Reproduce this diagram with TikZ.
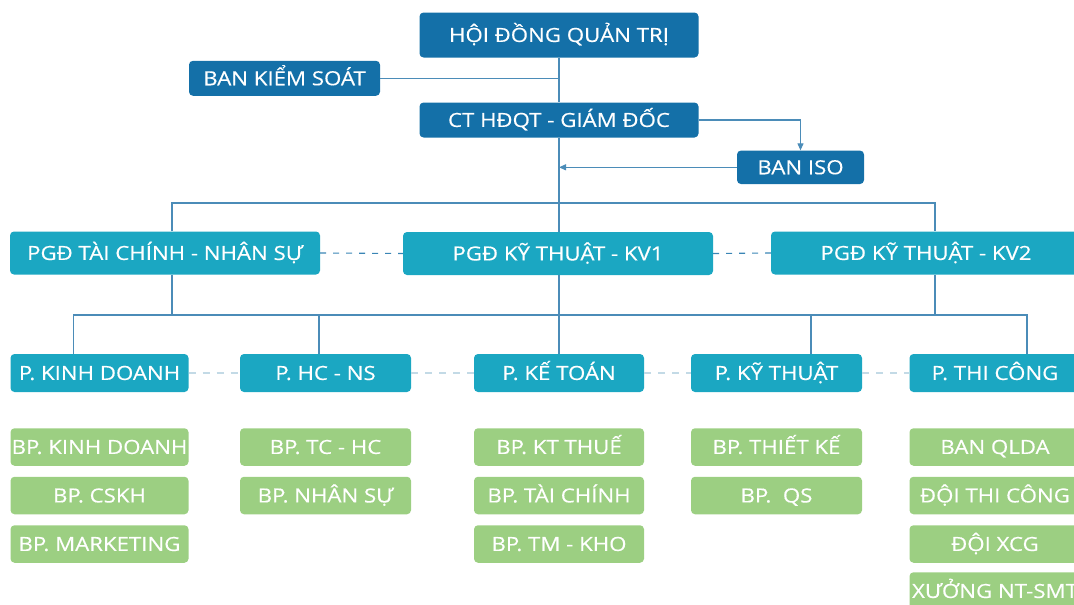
\documentclass[tikz,border=0pt]{standalone}
\usepackage{fontspec}
\setmainfont[FakeStretch=1.14,FakeBold=0.4]{Open Sans}
\usetikzlibrary{arrows.meta,calc}
\definecolor{dkblue}{HTML}{1470A8}
\definecolor{teal}{HTML}{1BA7C2}
\definecolor{grn}{HTML}{9CCF82}
\definecolor{ln}{HTML}{4B8CB8}
\definecolor{dsh}{HTML}{3A85B5}
\definecolor{lt}{HTML}{C3DAE6}
\tikzset{
  box/.style={rectangle, rounded corners=4pt, text=white, inner sep=0pt,
    text height=13.9pt, text depth=0pt,
    font=\fontsize{19.5}{21}\selectfont},
  dk/.style={box, fill=dkblue},
  tl/.style={box, fill=teal},
  gr/.style={box, fill=grn},
  conn/.style={draw=ln, line width=1.1pt},
  arr/.style={conn, -{Triangle[length=7pt,width=6pt]}},
  dashA/.style={draw=dsh, line width=1.1pt, dash pattern=on 6pt off 7pt},
  dashB/.style={draw=lt, line width=1.1pt, dash pattern=on 7pt off 7pt},
}
\begin{document}
\begin{tikzpicture}[x=1pt,y=-1pt]
\useasboundingbox (0,0) rectangle (1074,605);
\clip (0,0) rectangle (1074,605);
% top
\node[dk, minimum width=279pt, minimum height=45pt] (hdqt) at (559,35) {HỘI ĐỒNG QUẢN TRỊ};
\node[dk, minimum width=191pt, minimum height=35pt] (bks) at (284.5,78.3) {BAN KIỂM SOÁT};
\node[dk, minimum width=279pt, minimum height=35pt] (ct) at (559,120) {CT HĐQT - GIÁM ĐỐC};
\node[dk, minimum width=127pt, minimum height=33.5pt] (iso) at (800.5,167.3) {BAN ISO};
% PGD
\node[tl, minimum width=310pt, minimum height=43pt] (tcns) at (165,253) {PGĐ TÀI CHÍNH - NHÂN SỰ};
\node[tl, minimum width=310pt, minimum height=43pt] (kv1) at (558,253.5) {PGĐ KỸ THUẬT - KV1};
\node[tl, minimum width=310pt, minimum height=43pt] (kv2) at (926,253) {PGĐ KỸ THUẬT - KV2};
% P row
\node[tl, minimum width=178pt, minimum height=38pt] (pkd) at (99.5,373) {P. KINH DOANH};
\node[tl, minimum width=171pt, minimum height=38pt] (phc) at (325.5,373) {P. HC - NS};
\node[tl, minimum width=170pt, minimum height=38pt] (pkt) at (559,373) {P. KẾ TOÁN};
\node[tl, minimum width=171pt, minimum height=38pt] (pkth) at (776.5,373) {P. KỸ THUẬT};
\node[tl, minimum width=171pt, minimum height=38pt] (ptc) at (995,373) {P. THI CÔNG};
% green
\node[gr, minimum width=178pt, minimum height=37.5pt] (g11) at (99.5,447) {BP. KINH DOANH};
\node[gr, minimum width=178pt, minimum height=37.5pt] (g12) at (99.5,495.5) {BP. CSKH};
\node[gr, minimum width=178pt, minimum height=37.5pt] (g13) at (99.5,544) {BP. MARKETING};
\node[gr, minimum width=171pt, minimum height=37.5pt] (g21) at (325.5,447) {BP. TC - HC};
\node[gr, minimum width=171pt, minimum height=37.5pt] (g22) at (325.5,495.5) {BP. NHÂN SỰ};
\node[gr, minimum width=170pt, minimum height=37.5pt] (g31) at (559,447) {BP. KT THUẾ};
\node[gr, minimum width=170pt, minimum height=37.5pt] (g32) at (559,495.5) {BP. TÀI CHÍNH};
\node[gr, minimum width=170pt, minimum height=37.5pt] (g33) at (559,544) {BP. TM - KHO};
\node[gr, minimum width=171pt, minimum height=37.5pt] (g41) at (776.5,447) {BP. THIẾT KẾ};
\node[gr, minimum width=171pt, minimum height=37.5pt] (g42) at (776.5,495.5) {BP.\ \ QS};
\node[gr, minimum width=171pt, minimum height=37.5pt] (g51) at (995,447) {BAN QLDA};
\node[gr, minimum width=171pt, minimum height=37.5pt] (g52) at (995,495.5) {ĐỘI THI CÔNG};
\node[gr, minimum width=171pt, minimum height=37.5pt] (g53) at (995,544) {ĐỘI XCG};
\node[gr, minimum width=171pt, minimum height=37.5pt] (g54) at (995,591) {XƯỞNG NT-SMT};
% coordinates
\coordinate (b1l) at (172,203);
\coordinate (b1r) at (935,203);
\coordinate (b2l) at (73.4,315);
\coordinate (b2r) at (1027,315);
\coordinate (xtc) at (172,315);
\coordinate (xk2) at (935,315);
\coordinate (xhc) at (319,315);
\coordinate (xkt) at (811,315);
% connectors
\draw[conn] (hdqt) -- (ct);
\draw[conn] (ct) -- (kv1.north -| ct.south);
\draw[conn] (kv1.south -| pkt.north) -- (pkt);
\draw[conn] (bks) -- (bks -| hdqt.south);
\draw[arr] (ct.east) -| (iso.north);
\draw[arr] (iso.west) -- (iso.west -| ct.south);
\draw[conn] (tcns.north -| b1l) -- (b1l) -- (b1r) -- (kv2.north -| b1r);
\draw[conn] (tcns.south -| xtc) -- (xtc);
\draw[conn] (kv2.south -| xk2) -- (xk2);
\draw[conn] (pkd.north -| b2l) -- (b2l) -- (b2r) -- (ptc.north -| b2r);
\draw[conn] (xhc) -- (phc.north -| xhc);
\draw[conn] (xkt) -- (pkth.north -| xkt);
\draw[dashA] (tcns.east) -- (kv1.west);
\draw[dashA] (kv1.east) -- (kv2.west);
\draw[dashB] (pkd.east) -- (phc.west);
\draw[dashB] (phc.east) -- (pkt.west);
\draw[dashB] (pkt.east) -- (pkth.west);
\draw[dashB] (pkth.east) -- (ptc.west);
\end{tikzpicture}
\end{document}
